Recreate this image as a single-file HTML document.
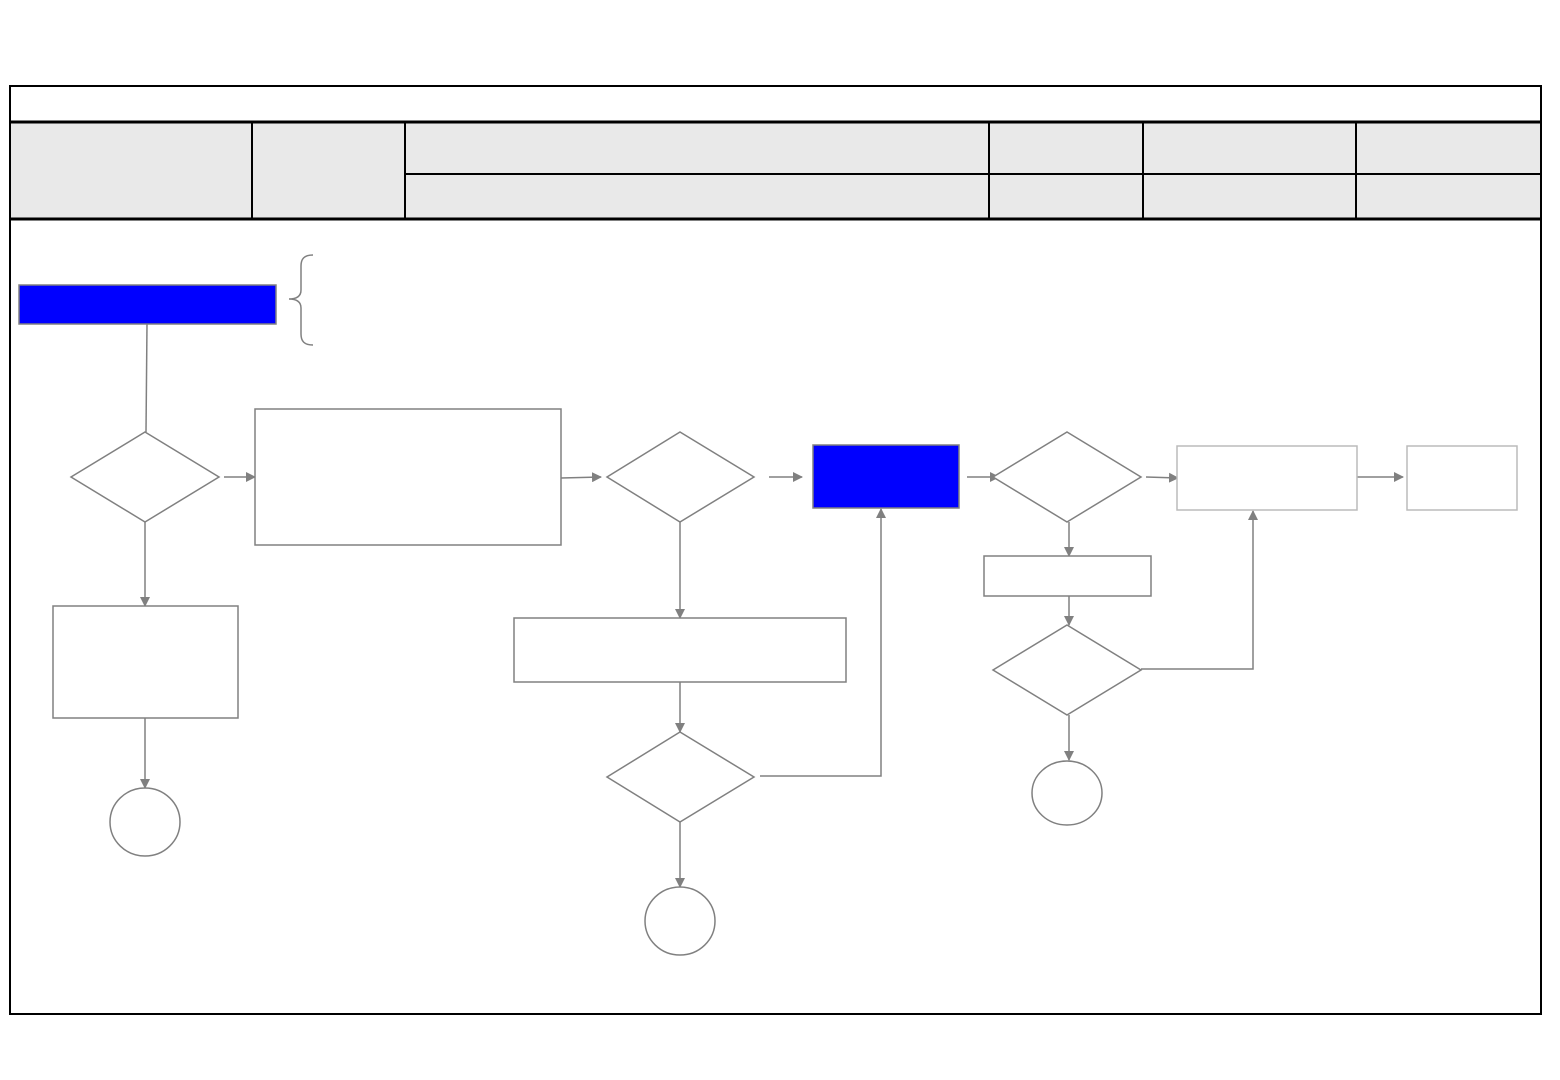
<!DOCTYPE html>
<html><head><meta charset="utf-8"><style>html,body{margin:0;padding:0;background:#fff}svg{display:block}</style></head>
<body>
<svg width="1560" height="1080" viewBox="0 0 1560 1080" xmlns="http://www.w3.org/2000/svg">
<defs>
<marker id="a" viewBox="0 0 10 10" refX="9" refY="5" markerWidth="10" markerHeight="10" markerUnits="userSpaceOnUse" orient="auto"><path d="M0,0 L10,5 L0,10 z" fill="#808080"/></marker>
</defs>
<rect x="11" y="123" width="1529" height="95" fill="#e9e9e9"/>
<rect x="10" y="86" width="1531" height="928" fill="none" stroke="#000" stroke-width="2"/>
<line x1="10" y1="122" x2="1541" y2="122" stroke="#000" stroke-width="3"/>
<line x1="10" y1="219" x2="1541" y2="219" stroke="#000" stroke-width="3"/>
<g stroke="#000" stroke-width="2">
<line x1="252" y1="122" x2="252" y2="218"/>
<line x1="405" y1="122" x2="405" y2="218"/>
<line x1="989" y1="122" x2="989" y2="218"/>
<line x1="1143" y1="122" x2="1143" y2="218"/>
<line x1="1356" y1="122" x2="1356" y2="218"/>
<line x1="405" y1="174" x2="1541" y2="174"/>
</g>
<g fill="none" stroke="#808080" stroke-width="1.5">
<rect x="19" y="285" width="257" height="39" fill="#0000ff"/>
<path d="M313,255 C304,255 301,259 301,266 L301,290 C301,295 298,299 289,299 C298,299 301,303 301,308 L301,334 C301,341 304,345 313,345"/>
<line x1="147" y1="324" x2="146" y2="432"/>
<polygon points="145,432 219,477 145,522 71,477" fill="#fff"/>
<line x1="224" y1="477" x2="255" y2="477" marker-end="url(#a)"/>
<rect x="255" y="409" width="306" height="136" fill="#fff"/>
<line x1="561" y1="478" x2="601" y2="477" marker-end="url(#a)"/>
<polygon points="680,432 754,477 680,522 607,477" fill="#fff"/>
<line x1="769" y1="477" x2="802" y2="477" marker-end="url(#a)"/>
<rect x="813" y="445" width="146" height="63" fill="#0000ff"/>
<line x1="967" y1="477" x2="999" y2="477" marker-end="url(#a)"/>
<polygon points="1067,432 1141,477 1067,522 993,477" fill="#fff"/>
<line x1="1146" y1="477" x2="1178" y2="478" marker-end="url(#a)"/>
<line x1="1357" y1="477" x2="1403" y2="477" marker-end="url(#a)"/>
<line x1="145" y1="522" x2="145" y2="606" marker-end="url(#a)"/>
<rect x="53" y="606" width="185" height="112" fill="#fff"/>
<line x1="145" y1="718" x2="145" y2="788" marker-end="url(#a)"/>
<ellipse cx="145" cy="822" rx="35" ry="34" fill="#fff"/>
<line x1="680" y1="522" x2="680" y2="618" marker-end="url(#a)"/>
<rect x="514" y="618" width="332" height="64" fill="#fff"/>
<line x1="680" y1="682" x2="680" y2="732" marker-end="url(#a)"/>
<polygon points="680,732 754,777 680,822 607,777" fill="#fff"/>
<polyline points="760,776 881,776 881,509" marker-end="url(#a)"/>
<line x1="680" y1="822" x2="680" y2="887" marker-end="url(#a)"/>
<ellipse cx="680" cy="921" rx="35" ry="34" fill="#fff"/>
<line x1="1069" y1="522" x2="1069" y2="556" marker-end="url(#a)"/>
<rect x="984" y="556" width="167" height="40" fill="#fff"/>
<line x1="1069" y1="596" x2="1069" y2="625" marker-end="url(#a)"/>
<polygon points="1067,625 1141,670 1067,715 993,670" fill="#fff"/>
<polyline points="1141,669 1253,669 1253,511" marker-end="url(#a)"/>
<line x1="1069" y1="715" x2="1069" y2="760" marker-end="url(#a)"/>
<ellipse cx="1067" cy="793" rx="35" ry="32" fill="#fff"/>
</g>
<g fill="#fff" stroke="#bbbbbb" stroke-width="1.5">
<rect x="1177" y="446" width="180" height="64"/>
<rect x="1407" y="446" width="110" height="64"/>
</g>
</svg>
</body></html>
